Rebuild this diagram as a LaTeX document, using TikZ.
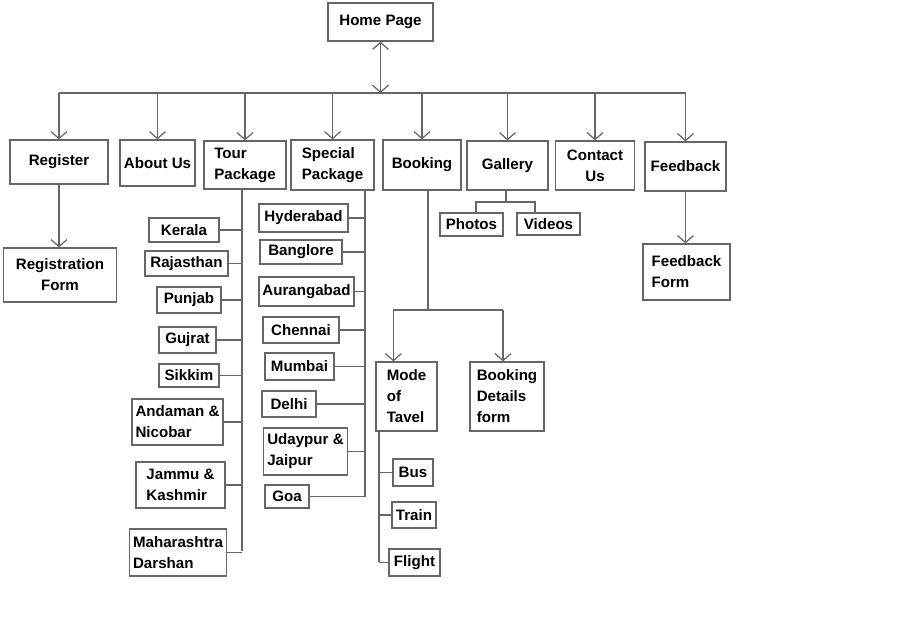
\documentclass[tikz,border=0pt]{standalone}
\usepackage{fontspec}
\setmainfont{Liberation Sans}
\usepackage{tikz}
\usetikzlibrary{arrows.meta}

\begin{document}
\begin{tikzpicture}[x=0.02cm, y=-0.02cm, line width=0.7pt, color=black!60,
  box/.style={draw, rectangle, inner sep=2pt, text=black, align=left,
    font=\fontsize{8.6}{12}\selectfont\bfseries},
  wh/.style 2 args={minimum width=#1*0.02cm, minimum height=#2*0.02cm},
  arr/.style={-{Straight Barb[length=0.14cm,width=0.32cm]}},
  dbl/.style={{Straight Barb[length=0.14cm,width=0.32cm]}-{Straight Barb[length=0.14cm,width=0.32cm]}}]
  \useasboundingbox (0,0) rectangle (914,622);

  % top level
  \node (home) [box, wh={105}{38}] at (380.5,22) {Home Page};
  \node (reg) [box, wh={98}{44}] at (59,162) {Register};
  \node (about) [box, wh={75}{46}] at (157.5,163) {About Us};
  \node (tour) [box, wh={82}{48}] at (245,165) {Tour\\Package};
  \node (spec) [box, wh={83}{50}] at (332.5,165) {Special\\Package};
  \node (book) [box, wh={78}{50}] at (422,165) {Booking};
  \node (gal) [box, wh={81}{49}] at (507.5,165.5) {Gallery};
  \node (cont) [box, wh={79}{49}, align=center] at (595,165.5) {Contact\\Us};
  \node (feed) [box, wh={81}{49}] at (685.5,166.5) {Feedback};
  \node (regf) [box, wh={113}{54}, align=center] at (60,275) {Registration\\Form};
  \node (fbf) [box, wh={87}{56}] at (686.5,272) {Feedback\\Form};

  % tour package
  \node (kerala) [box, wh={70}{24}] at (184,230) {Kerala};
  \node (raj) [box, wh={83}{25}] at (186.5,263.5) {Rajasthan};
  \node (punjab) [box, wh={64}{26}] at (189,300) {Punjab};
  \node (gujrat) [box, wh={57}{26}] at (187.5,340) {Gujrat};
  \node (sikkim) [box, wh={60}{23}] at (189,375.5) {Sikkim};
  \node (andaman) [box, wh={91}{46}] at (177.5,422) {Andaman \&\\Nicobar};
  \node (jammu) [box, wh={89}{46}] at (180.5,485) {Jammu \&\\Kashmir};
  \node (maha) [box, wh={96}{47}] at (178,552.5) {Maharashtra\\Darshan};

  % special package
  \node (hyd) [box, wh={89}{28}] at (303.5,218) {Hyderabad};
  \node (bang) [box, wh={82}{24}] at (301,252) {Banglore};
  \node (aur) [box, wh={91}{29}] at (306.5,291.5) {Aurangabad};
  \node (chen) [box, wh={76}{26}] at (301,330) {Chennai};
  \node (mum) [box, wh={69}{27}] at (299.5,366.5) {Mumbai};
  \node (delhi) [box, wh={54}{26}] at (289,404) {Delhi};
  \node (uday) [box, wh={81}{47}] at (305.5,451.5) {Udaypur \&\\Jaipur};
  \node (goa) [box, wh={44}{23}] at (287,496.5) {Goa};

  % booking and gallery
  \node (mode) [box, wh={61}{69}] at (406.5,396.5) {Mode\\of\\Tavel};
  \node (bdf) [box, wh={74}{69}] at (507,396.5) {Booking\\Details\\form};
  \node (bus) [box, wh={40}{27}] at (413,472.5) {Bus};
  \node (train) [box, wh={44}{26}] at (414,515) {Train};
  \node (flight) [box, wh={51}{27}] at (414.5,562.5) {Flight};
  \node (photos) [box, wh={63}{23}] at (471.5,224.5) {Photos};
  \node (videos) [box, wh={63}{22}] at (548.5,224) {Videos};

  \coordinate (hub) at (380.5,93);
  \coordinate (tpb) at (242,551);
  \coordinate (spb) at (365,497);
  \coordinate (bkj) at (428,310);
  \coordinate (mdb) at (379,562);
  \coordinate (gj) at (506,202);

  \draw[dbl] (home.south) -- (hub);
  \draw (reg.north |- hub) -- (feed.north |- hub);
  \draw[arr] (reg.north |- hub) -- (reg.north);
  \draw[arr] (about.north |- hub) -- (about.north);
  \draw[arr] (tour.north |- hub) -- (tour.north);
  \draw[arr] (spec.north |- hub) -- (spec.north);
  \draw[arr] (book.north |- hub) -- (book.north);
  \draw[arr] (gal.north |- hub) -- (gal.north);
  \draw[arr] (cont.north |- hub) -- (cont.north);
  \draw[arr] (feed.north |- hub) -- (feed.north);
  \draw[arr] (reg.south) -- (reg.south |- regf.north);
  \draw[arr] (feed.south) -- (feed.south |- fbf.north);

  \draw (tour.south -| tpb) -- (tpb);
  \draw (kerala.east) -- (kerala.east -| tpb);
  \draw (raj.east) -- (raj.east -| tpb);
  \draw (punjab.east) -- (punjab.east -| tpb);
  \draw (gujrat.east) -- (gujrat.east -| tpb);
  \draw (sikkim.east) -- (sikkim.east -| tpb);
  \draw (andaman.east) -- (andaman.east -| tpb);
  \draw (jammu.east) -- (jammu.east -| tpb);
  \draw (maha.east) -- (maha.east -| tpb);

  \draw (spec.south -| spb) -- (spb);
  \draw (hyd.east) -- (hyd.east -| spb);
  \draw (bang.east) -- (bang.east -| spb);
  \draw (aur.east) -- (aur.east -| spb);
  \draw (chen.east) -- (chen.east -| spb);
  \draw (mum.east) -- (mum.east -| spb);
  \draw (delhi.east) -- (delhi.east -| spb);
  \draw (uday.east) -- (uday.east -| spb);
  \draw (goa.east) -- (goa.east -| spb);

  \draw (book.south -| bkj) -- (bkj);
  \draw ([xshift=0.36cm]mode.north west |- bkj) -- ([xshift=-0.08cm]bdf.north |- bkj);
  \draw[arr] ([xshift=0.36cm]mode.north west |- bkj) -- ([xshift=0.36cm]mode.north west);
  \draw[arr] ([xshift=-0.08cm]bdf.north |- bkj) -- ([xshift=-0.08cm]bdf.north);
  \draw (mode.south -| mdb) -- (mdb);
  \draw (bus.west) -- (bus.west -| mdb);
  \draw (train.west) -- (train.west -| mdb);
  \draw (flight.west) -- (flight.west -| mdb);

  \draw (gal.south -| gj) -- (gj);
  \draw ([xshift=0.09cm]photos.north) |- (gj) -| ([xshift=-0.27cm]videos.north);
\end{tikzpicture}
\end{document}
